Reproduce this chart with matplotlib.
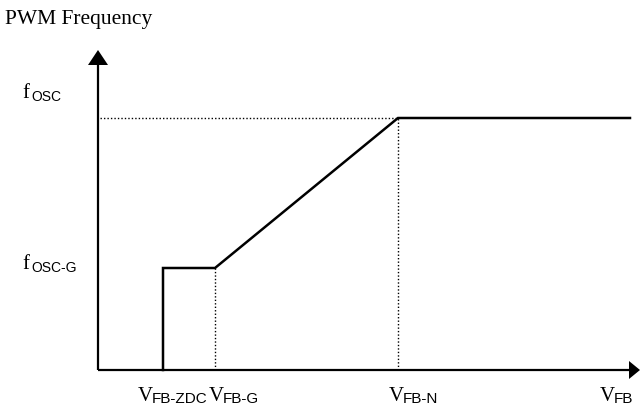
import matplotlib
matplotlib.use("Agg")
import matplotlib.pyplot as plt
from matplotlib.patches import Polygon

# Data (arbitrary units; origin at axes crossing)
v_fb_zdc = 65
v_fb_g = 117
v_fb_n = 300
v_end = 532
f_osc_g = 102
f_osc = 252

curve_x = [v_fb_zdc, v_fb_zdc, v_fb_g, v_fb_n, v_end]
curve_y = [0, f_osc_g, f_osc_g, f_osc, f_osc]

x_labels = [("V", "FB-ZDC", v_fb_zdc), ("V", "FB-G", v_fb_g), ("V", "FB-N", v_fb_n), ("V", "FB", 512)]
x_label_offsets = [-25, -6, -9, -10]
y_labels = [("f", "OSC", f_osc), ("f", "OSC-G", f_osc_g)]
y_label_offsets = [20, -1]

fig = plt.figure(figsize=(6.4, 4.08), dpi=100)
ax = fig.add_axes([0, 0, 1, 1])
ax.set_xlim(-98, 542)
ax.set_ylim(-38, 370)
ax.axis("off")

k = 'black'
# axes lines
ax.plot([0, 532], [0, 0], color=k, lw=1.6, solid_capstyle='butt')
ax.plot([0, 0], [0, 305], color=k, lw=1.6, solid_capstyle='butt')
ax.add_patch(Polygon([[531, -9], [542, 0], [531, 9]], closed=True, color=k, lw=0))
ax.add_patch(Polygon([[-10, 305], [0, 320], [10, 305]], closed=True, color=k, lw=0))

# dotted guides
dot = dict(color=k, lw=1.0, linestyle=(0, (1, 1.5)))
ax.plot([2, v_fb_n], [f_osc, f_osc], **dot)
ax.plot([v_fb_n, v_fb_n], [0, f_osc], **dot)
ax.plot([v_fb_g, v_fb_g], [0, f_osc_g], **dot)

# curve
ax.plot(curve_x, curve_y, color=k, lw=1.8, solid_joinstyle='miter')

serif = "Liberation Serif"
sans = "Liberation Sans"

ax.text(-93, 346, "PWM Frequency", fontsize=15.5, family=serif, va='baseline', ha='left')

for (m, s, yv), off in zip(y_labels, y_label_offsets):
    ax.text(-76, yv + off, m, fontsize=15, family=serif, va='baseline', ha='left')
    ax.text(-67, yv + off - 3, s, fontsize=10, family=sans, va='baseline', ha='left')

for (m, s, xv), off in zip(x_labels, x_label_offsets):
    ax.text(xv + off, -31, m, fontsize=15, family=serif, va='baseline', ha='left')
    ax.text(xv + off + 14, -33, s, fontsize=11, family=sans, va='baseline', ha='left')

fig.savefig("out.png", dpi=100)
